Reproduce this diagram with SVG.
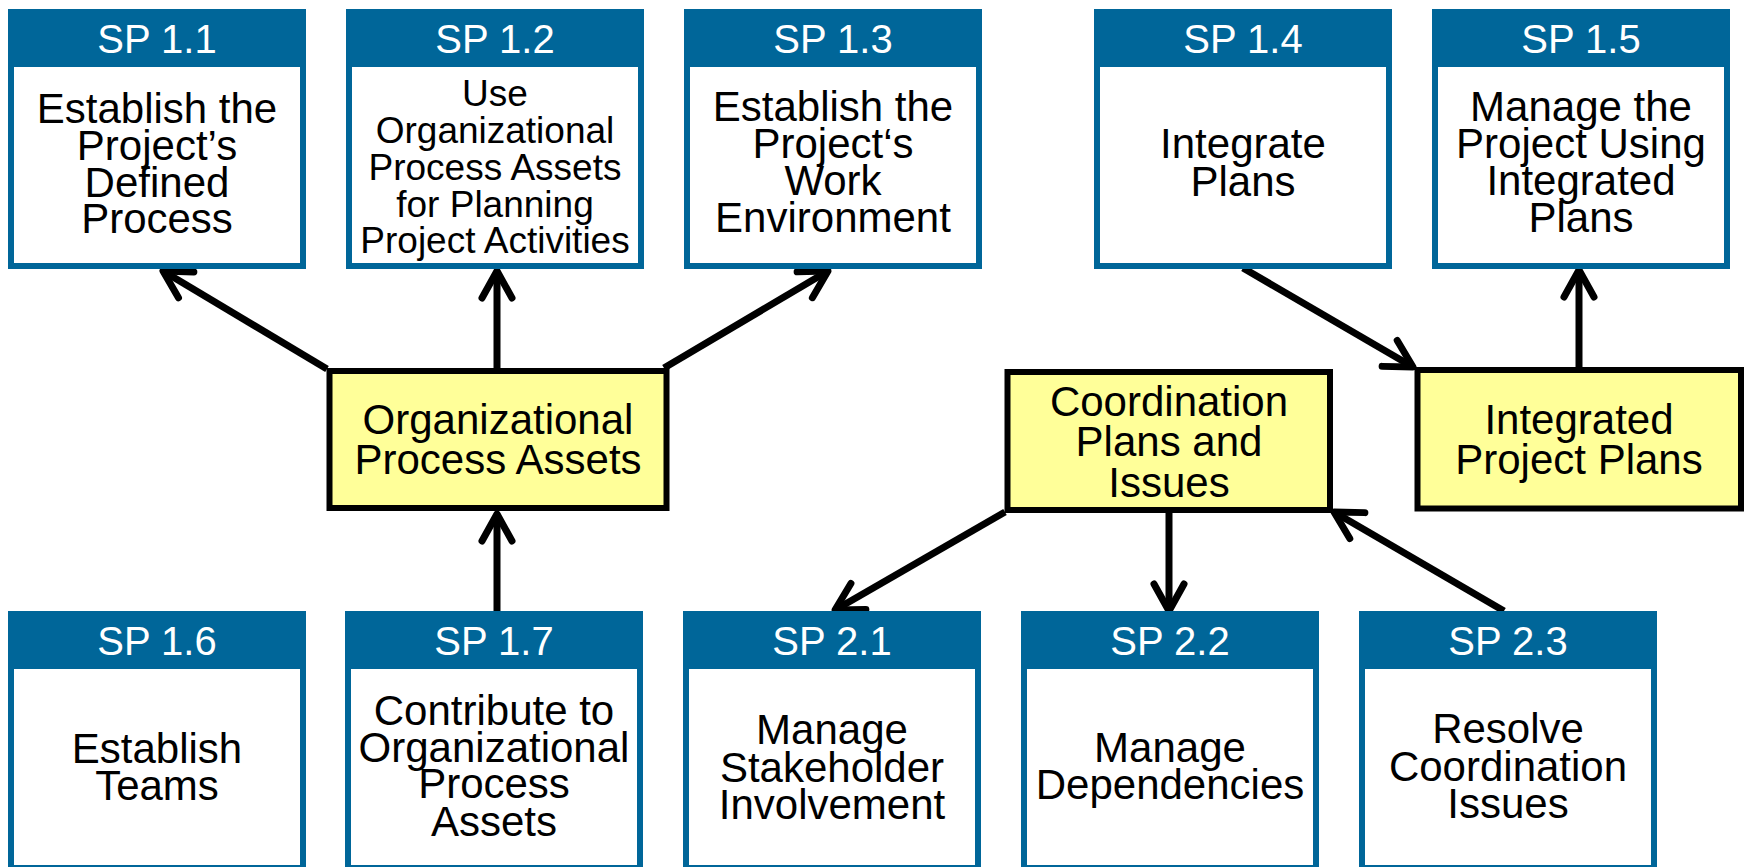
<svg xmlns="http://www.w3.org/2000/svg" width="1744" height="867" viewBox="0 0 1744 867">
<style>
  .outer { fill: #006699; }
  .inner { fill: #ffffff; }
  .hdr { font-family: "Liberation Sans", Arial, sans-serif; font-size: 40px; fill: #ffffff; text-anchor: middle; }
  .body { font-family: "Liberation Sans", Arial, sans-serif; font-size: 42px; fill: #000000; text-anchor: middle; }
  .small { font-size: 37px; }
  .yel { fill: #ffff99; stroke: #000000; stroke-width: 6; }
  .conn { stroke: #000000; stroke-width: 7; fill: none; marker-end: url(#arr); }
</style>
<defs>
  <marker id="arr" markerUnits="userSpaceOnUse" orient="auto" markerWidth="60" markerHeight="60" refX="0" refY="0" viewBox="-40 -30 60 60" overflow="visible">
    <path d="M -27 -15 L 0 0 L -27 15" fill="none" stroke="#000000" stroke-width="7" stroke-linecap="round" stroke-linejoin="round"/>
  </marker>
</defs>
<rect width="1744" height="867" fill="#ffffff"/>

<g id="connectors">
  <line class="conn" x1="327" y1="369" x2="163" y2="271"/>
  <line class="conn" x1="497" y1="368" x2="497" y2="271"/>
  <line class="conn" x1="664" y1="368" x2="828" y2="271"/>
  <line class="conn" x1="497" y1="611" x2="497" y2="514"/>
  <line class="conn" x1="1243" y1="268" x2="1413" y2="367"/>
  <line class="conn" x1="1579" y1="368" x2="1579" y2="270"/>
  <line class="conn" x1="1005" y1="512" x2="835" y2="610"/>
  <line class="conn" x1="1169" y1="513" x2="1169" y2="611"/>
  <line class="conn" x1="1504" y1="611" x2="1334" y2="512"/>
</g>

<g id="sp11">
  <rect class="outer" x="8" y="9" width="298" height="260"/>
  <rect class="inner" x="14" y="67" width="286" height="196"/>
  <text class="hdr" x="157" y="53">SP 1.1</text>
  <text class="body" x="157" y="123">Establish the</text>
  <text class="body" x="157" y="160">Project’s</text>
  <text class="body" x="157" y="197">Defined</text>
  <text class="body" x="157" y="233">Process</text>
</g>
<g id="sp12">
  <rect class="outer" x="346" y="9" width="298" height="260"/>
  <rect class="inner" x="352" y="67" width="286" height="196"/>
  <text class="hdr" x="495" y="53">SP 1.2</text>
  <text class="body small" x="495" y="106">Use</text>
  <text class="body small" x="495" y="143">Organizational</text>
  <text class="body small" x="495" y="180">Process Assets</text>
  <text class="body small" x="495" y="217">for Planning</text>
  <text class="body small" x="495" y="253">Project Activities</text>
</g>
<g id="sp13">
  <rect class="outer" x="684" y="9" width="298" height="260"/>
  <rect class="inner" x="690" y="67" width="286" height="196"/>
  <text class="hdr" x="833" y="53">SP 1.3</text>
  <text class="body" x="833" y="121">Establish the</text>
  <text class="body" x="833" y="158">Project‘s</text>
  <text class="body" x="833" y="195">Work</text>
  <text class="body" x="833" y="232">Environment</text>
</g>
<g id="sp14">
  <rect class="outer" x="1094" y="9" width="298" height="260"/>
  <rect class="inner" x="1100" y="67" width="286" height="196"/>
  <text class="hdr" x="1243" y="53">SP 1.4</text>
  <text class="body" x="1243" y="158">Integrate</text>
  <text class="body" x="1243" y="196">Plans</text>
</g>
<g id="sp15">
  <rect class="outer" x="1432" y="9" width="298" height="260"/>
  <rect class="inner" x="1438" y="67" width="286" height="196"/>
  <text class="hdr" x="1581" y="53">SP 1.5</text>
  <text class="body" x="1581" y="121">Manage the</text>
  <text class="body" x="1581" y="158">Project Using</text>
  <text class="body" x="1581" y="195">Integrated</text>
  <text class="body" x="1581" y="232">Plans</text>
</g>

<g id="opa">
  <rect class="yel" x="329.5" y="371" width="337" height="137"/>
  <text class="body" x="498" y="434">Organizational</text>
  <text class="body" x="498" y="474">Process Assets</text>
</g>
<g id="cpi">
  <rect class="yel" x="1007.5" y="372" width="322.5" height="138"/>
  <text class="body" x="1169" y="416">Coordination</text>
  <text class="body" x="1169" y="456">Plans and</text>
  <text class="body" x="1169" y="497">Issues</text>
</g>
<g id="ipp">
  <rect class="yel" x="1417.5" y="370" width="323.5" height="138.5"/>
  <text class="body" x="1579" y="434">Integrated</text>
  <text class="body" x="1579" y="474">Project Plans</text>
</g>

<g id="sp16">
  <rect class="outer" x="8" y="611" width="298" height="256"/>
  <rect class="inner" x="14" y="669" width="286" height="196"/>
  <text class="hdr" x="157" y="655">SP 1.6</text>
  <text class="body" x="157" y="763">Establish</text>
  <text class="body" x="157" y="800">Teams</text>
</g>
<g id="sp17">
  <rect class="outer" x="345" y="611" width="298" height="256"/>
  <rect class="inner" x="351" y="669" width="286" height="196"/>
  <text class="hdr" x="494" y="655">SP 1.7</text>
  <text class="body" x="494" y="725">Contribute to</text>
  <text class="body" x="494" y="762">Organizational</text>
  <text class="body" x="494" y="798">Process</text>
  <text class="body" x="494" y="836">Assets</text>
</g>
<g id="sp21">
  <rect class="outer" x="683" y="611" width="298" height="256"/>
  <rect class="inner" x="689" y="669" width="286" height="196"/>
  <text class="hdr" x="832" y="655">SP 2.1</text>
  <text class="body" x="832" y="744">Manage</text>
  <text class="body" x="832" y="782">Stakeholder</text>
  <text class="body" x="832" y="819">Involvement</text>
</g>
<g id="sp22">
  <rect class="outer" x="1021" y="611" width="298" height="256"/>
  <rect class="inner" x="1027" y="669" width="286" height="196"/>
  <text class="hdr" x="1170" y="655">SP 2.2</text>
  <text class="body" x="1170" y="762">Manage</text>
  <text class="body" x="1170" y="799">Dependencies</text>
</g>
<g id="sp23">
  <rect class="outer" x="1359" y="611" width="298" height="256"/>
  <rect class="inner" x="1365" y="669" width="286" height="196"/>
  <text class="hdr" x="1508" y="655">SP 2.3</text>
  <text class="body" x="1508" y="743">Resolve</text>
  <text class="body" x="1508" y="781">Coordination</text>
  <text class="body" x="1508" y="818">Issues</text>
</g>
</svg>
